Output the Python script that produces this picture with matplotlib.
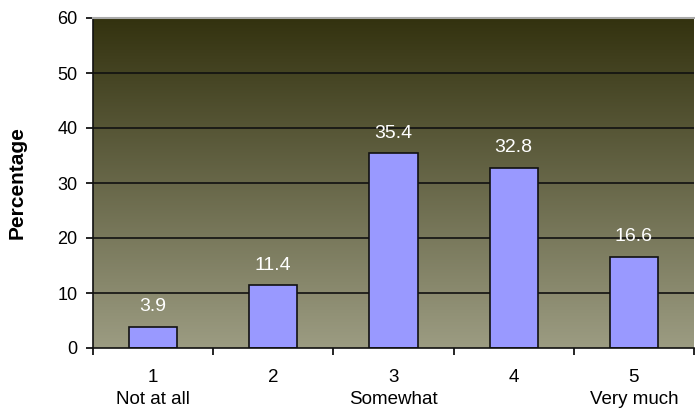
import numpy as np
import matplotlib
matplotlib.use("Agg")
import matplotlib.pyplot as plt
from matplotlib.colors import LinearSegmentedColormap

plt.rcParams['font.family'] = ['Liberation Sans', 'DejaVu Sans']

categories = ["1\nNot at all", "2", "3\nSomewhat", "4", "5\nVery much"]
values = [3.9, 11.4, 35.4, 32.8, 16.6]
y_ticks = [0, 10, 20, 30, 40, 50, 60]

fig = plt.figure(figsize=(6.95, 4.13), dpi=100)
ax = fig.add_axes([93 / 695, 1 - 348 / 413, 601 / 695, 330 / 413])

x = np.arange(len(categories))
ax.set_xlim(-0.5, len(categories) - 0.5)
ax.set_ylim(0, 60)

# vertical gradient background
grad = LinearSegmentedColormap.from_list("bg", ["#9c9c82", "#33320f"])
ax.imshow(np.linspace(0, 1, 256).reshape(-1, 1), aspect="auto", cmap=grad,
          extent=(-0.5, len(categories) - 0.5, 0, 60), origin="lower", zorder=0)

for t in y_ticks[1:-1]:
    ax.axhline(t, color="#111111", lw=1.2, zorder=1)

ax.bar(x, values, width=0.4, color="#9999ff", edgecolor="#111111", lw=1.2, zorder=2)

for xi, v in zip(x, values):
    ax.text(xi, v + 2.1, f"{v:.1f}", color="white", ha="center", va="bottom", fontsize=14, zorder=3)

ax.set_yticks(y_ticks)
ax.tick_params(axis="y", labelsize=13, length=5, width=1.2, direction="out", pad=6)
ax.set_xticks(np.arange(len(categories) + 1) - 0.5, minor=False)
ax.set_xticklabels([])
ax.set_xticks(x, minor=True)
ax.set_xticklabels(categories, minor=True, fontsize=13.5, linespacing=1.4)
ax.tick_params(axis="x", which="major", length=5, width=1.2, direction="out")
ax.tick_params(axis="x", which="minor", length=0, pad=15)

ax.set_ylabel("Percentage", fontsize=15, fontweight="bold", labelpad=22)

for s in ["left", "bottom"]:
    ax.spines[s].set_linewidth(1.2)
    ax.spines[s].set_color("#111111")
ax.spines["top"].set_color("#aaaaaa")
ax.spines["top"].set_linewidth(1.5)
ax.spines["right"].set_visible(False)

fig.savefig("out.png", dpi=100)
